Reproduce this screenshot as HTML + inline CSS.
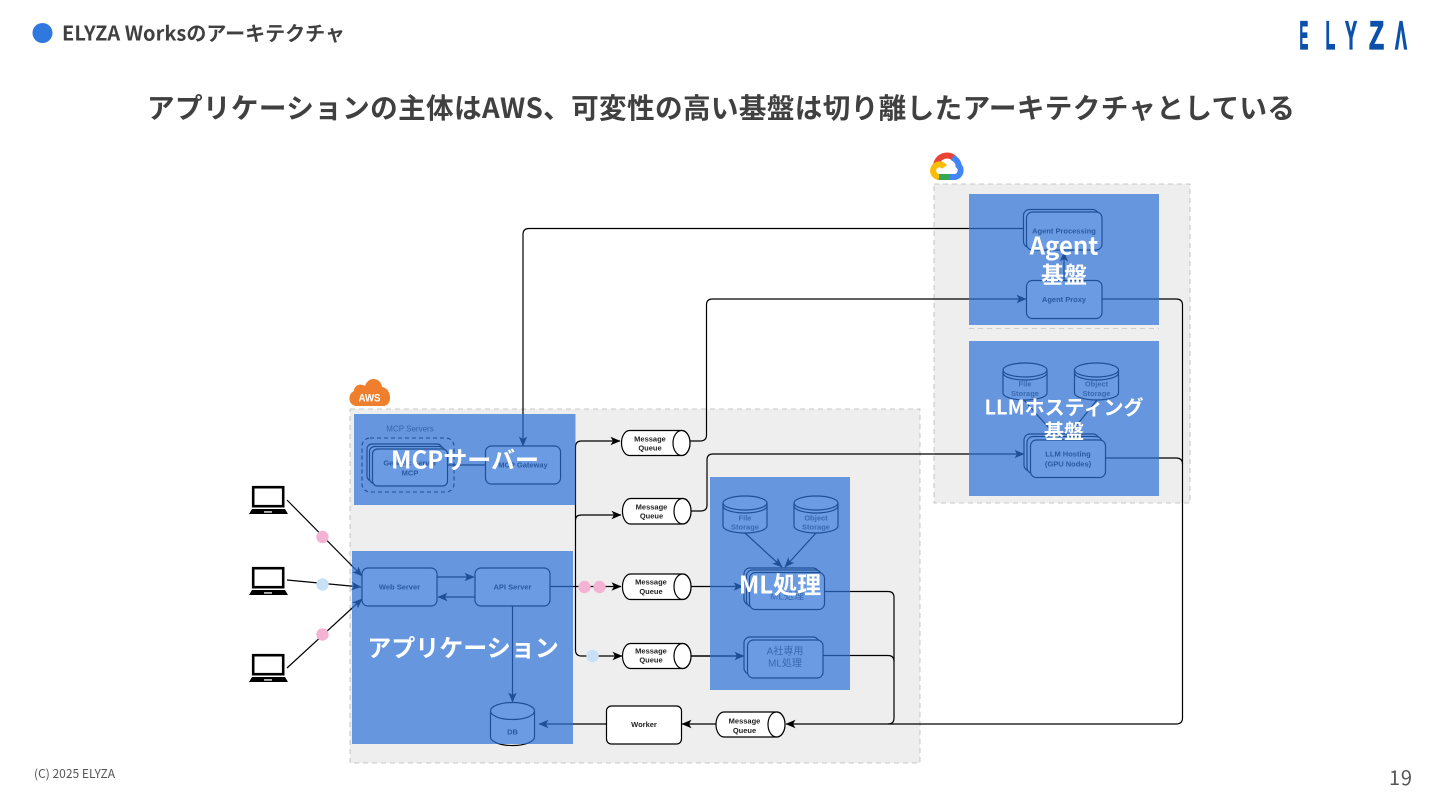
<!DOCTYPE html>
<html lang="ja">
<head>
<meta charset="utf-8">
<title>ELYZA Worksのアーキテクチャ</title>
<style>
html,body{margin:0;padding:0;background:#fff;width:1440px;height:810px;overflow:hidden}
svg{display:block}
.jp{font-family:"Liberation Sans","Noto Sans CJK JP",sans-serif}
.nt{font-family:"Noto Sans CJK JP","Liberation Sans",sans-serif}
.lb{font-family:"Liberation Sans","Noto Sans CJK JP",sans-serif;font-weight:700;font-size:7.5px;fill:#222;text-anchor:middle;dominant-baseline:central}
.nd{fill:#fff;stroke:#000;stroke-width:1.2}
.ln{fill:none;stroke:#000;stroke-width:1.2}
.ov{fill:#2c71d6;opacity:.7}
.wt{font-family:"Noto Sans CJK JP","Liberation Sans",sans-serif;font-weight:700;fill:#fff;text-anchor:middle;dominant-baseline:central}
.soft{filter:blur(.3px)}
</style>
</head>
<body>
<svg width="1440" height="810" viewBox="0 0 1440 810" xmlns="http://www.w3.org/2000/svg">
<defs>
<marker id="a" markerUnits="userSpaceOnUse" markerWidth="11" markerHeight="10" refX="9.5" refY="5" orient="auto">
<path d="M0 .8 L10 5 L0 9.2 L2.5 5z" fill="#000"/>
</marker>
<g id="lap">
<rect x="4.2" y="1.2" width="30" height="19" fill="#fff" stroke="#000" stroke-width="2.6"/>
<path d="M3 23 H36 L39 28 H0z" fill="#000"/>
<rect x="15" y="25.3" width="8" height="1.3" fill="#fff"/>
</g>
</defs>

<!-- header -->
<circle cx="42.5" cy="33" r="10" fill="#2f78e0"/>
<text x="62" y="40.5" class="nt" font-size="20" font-weight="700" fill="#404040" textLength="283">ELYZA Worksのアーキテクチャ</text>
<text x="147" y="118" class="nt" font-size="27.6" font-weight="700" fill="#404040" textLength="1148">アプリケーションの主体はAWS、可変性の高い基盤は切り離したアーキテクチャとしている</text>
<text x="34" y="778" class="nt" font-size="12" fill="#555" textLength="81">(C) 2025 ELYZA</text>
<text x="1389" y="785" class="nt" font-size="20" fill="#555" textLength="23">19</text>

<!-- logo -->
<g class="jp" font-weight="700" font-size="40" fill="#0b50aa" stroke="#0b50aa" stroke-width="1.2">
<text transform="translate(1299.5 49) scale(.33 1)">E</text>
<text transform="translate(1325.5 49) scale(.4 1)">L</text>
<text transform="translate(1345 49) scale(.45 1)">Y</text>
<text transform="translate(1369 49) scale(.62 1)">Z</text>
<text transform="translate(1395 49) scale(.45 1)">Λ</text>
</g>

<g class="soft">
<!-- cloud backgrounds -->
<rect x="350" y="409" width="570" height="354" fill="#eee"/>
<rect x="934" y="184" width="256" height="319" fill="#eee"/>
<rect x="350" y="409" width="570" height="354" fill="none" stroke="#b8b8b8" stroke-width=".8" stroke-dasharray="5 4"/>
<rect x="934" y="184" width="256" height="319" fill="none" stroke="#b8b8b8" stroke-width=".8" stroke-dasharray="5 4"/>
<line x1="969" y1="328.500" x2="1159" y2="328.500" stroke="#c4c0bc" stroke-width=".8" stroke-dasharray="5 4"/>

<!-- AWS badge -->
<path d="M357 406 C348 406 347 394 354 391 C354 385 361 383 365 386 C368 376 381 377 382 387 C392 388 393 406 383 406z" fill="#ef7f2d"/>
<text x="369.500" y="401.500" class="jp" font-size="11" font-weight="700" fill="#fff" text-anchor="middle" textLength="22" lengthAdjust="spacingAndGlyphs">AWS</text>

<!-- Google Cloud badge -->
<g fill="none" stroke-width="6">
<path d="M936 166 A11 11 0 0 1 955 159" stroke="#ea4335"/>
<path d="M952.500 157.500 C957 160 958.500 163 958.500 165.500 A6.600 6.600 0 0 1 954 177 H949" stroke="#4285f4"/>
<path d="M950 177 H937" stroke="#34a853"/>
<path d="M939 177 A6.300 6.300 0 1 1 944.500 167" stroke="#fbbc05"/>
</g>

<!-- connectors -->
<g class="ln">
<path d="M1023 228.500 H529 Q523 228.500 523 234.500 V446" marker-end="url(#a)"/>
<path d="M690 441 H700 Q706.500 441 706.500 435 V305 Q706.500 299 712.500 299 H1026" marker-end="url(#a)"/>
<path d="M691 511 H701 Q707 511 707 505 V460 Q707 454 713 454 H1024" marker-end="url(#a)"/>
<path d="M1102 299 H1176 Q1182.500 299 1182.500 305 V718 Q1182.500 724 1176 724 H786" marker-end="url(#a)"/>
<path d="M1105 458 H1176 Q1182.500 458 1182.500 464"/>
<path d="M825 591.500 H888 Q894 591.500 894 597.500 V718 Q894 724 888 724"/>
<path d="M823 655.500 H888 Q894 655.500 894 661.500"/>
<path d="M550 586.500 H621" marker-end="url(#a)"/>
<path d="M575.500 586.500 V447 Q575.500 441 581.500 441 H620" marker-end="url(#a)"/>
<path d="M575.500 520 Q575.500 515 581.500 515 H621" marker-end="url(#a)"/>
<path d="M575.500 586.500 V650 Q575.500 656 581.500 656 H622" marker-end="url(#a)"/>
<path d="M691 586.500 H743" marker-end="url(#a)"/>
<path d="M691 656 H744" stroke-width="1.6" marker-end="url(#a)"/>
<path d="M716 724 H682" marker-end="url(#a)"/>
<path d="M606 724 H539" marker-end="url(#a)"/>
<path d="M512.500 606 V702" marker-end="url(#a)"/>
<path d="M437 577 H474" marker-end="url(#a)"/>
<path d="M475 597 H438" marker-end="url(#a)"/>
<path d="M485.500 465 H448"/>
<path d="M745 533 L782 567" marker-end="url(#a)"/>
<path d="M816 533 L785 567" marker-end="url(#a)"/>
<path d="M1064 280 V252" marker-end="url(#a)"/>
<path d="M1024 400 L1056 436"/>
<path d="M1097 400 L1068 436"/>
<path d="M287 500 L362 576" marker-end="url(#a)"/>
<path d="M287 580 L361 587" marker-end="url(#a)"/>
<path d="M287 668 L362 599" marker-end="url(#a)"/>
</g>

<!-- laptops -->
<use href="#lap" x="249" y="486"/>
<use href="#lap" x="249" y="567"/>
<use href="#lap" x="249" y="654"/>

<!-- MCP -->
<rect x="362" y="438" width="92" height="54" rx="8" fill="none" stroke="#000" stroke-width="1.1" stroke-dasharray="4 3"/>
<text x="410" y="429" class="lb" style="font-weight:400;font-size:8px;fill:#444">MCP Servers</text>
<rect class="nd" x="367" y="444" width="75" height="37" rx="5"/>
<rect class="nd" x="369.500" y="446.500" width="75" height="37" rx="5"/>
<rect class="nd" x="372.500" y="449" width="75" height="37" rx="5"/>
<text x="410" y="463" class="lb">Generic Server</text>
<text x="410" y="473" class="lb">MCP</text>
<rect class="nd" x="485.500" y="446" width="75" height="38" rx="6"/>
<text x="523" y="465" class="lb">MCP Gateway</text>

<!-- App -->
<rect class="nd" x="362" y="568" width="75" height="38" rx="6"/>
<text x="399.500" y="587" class="lb">Web Server</text>
<rect class="nd" x="475" y="568" width="75" height="38" rx="6"/>
<text x="512.500" y="587" class="lb">API Server</text>
<path class="nd" d="M490.500 711 A22 8.500 0 0 1 534.500 711 V737 A22 8.500 0 0 1 490.500 737z"/>
<path class="ln" d="M490.500 711 A22 8.500 0 0 0 534.500 711"/>
<text x="512.500" y="732" class="lb">DB</text>

<!-- Queues -->
<g>
<path class="nd" d="M629.500 430.500 H682 A8 12.500 0 0 1 682 455.500 H629.500 A8 12.500 0 0 1 629.500 430.500z"/><ellipse class="nd" cx="681.500" cy="443" rx="8.500" ry="12.500"/>
<path class="nd" d="M630.500 498.500 H683 A8 12.700 0 0 1 683 524 H630.500 A8 12.700 0 0 1 630.500 498.500z"/><ellipse class="nd" cx="682.500" cy="511.200" rx="8.500" ry="12.700"/>
<path class="nd" d="M630.500 574 H683 A8 12.700 0 0 1 683 599.500 H630.500 A8 12.700 0 0 1 630.500 574z"/><ellipse class="nd" cx="682.500" cy="586.700" rx="8.500" ry="12.700"/>
<path class="nd" d="M630.500 643.500 H683 A8 12.500 0 0 1 683 668.500 H630.500 A8 12.500 0 0 1 630.500 643.500z"/><ellipse class="nd" cx="682.500" cy="656" rx="8.500" ry="12.500"/>
<path class="nd" d="M724 712 H777 A8 12.500 0 0 1 777 737 H724 A8 12.500 0 0 1 724 712z"/><ellipse class="nd" cx="776.500" cy="724.500" rx="8.500" ry="12.500"/>
</g>
<text x="650" y="439" class="lb">Message</text><text x="650" y="448" class="lb">Queue</text>
<text x="651.500" y="507" class="lb">Message</text><text x="651.500" y="516" class="lb">Queue</text>
<text x="651" y="582" class="lb">Message</text><text x="651" y="591.500" class="lb">Queue</text>
<text x="651" y="651" class="lb">Message</text><text x="651" y="660" class="lb">Queue</text>
<text x="744.500" y="721" class="lb">Message</text><text x="744.500" y="730.500" class="lb">Queue</text>
<rect class="nd" x="606.500" y="706" width="75" height="38" rx="5"/>
<text x="644" y="724.500" class="lb">Worker</text>

<!-- ML -->
<g>
<path class="nd" d="M723 503 A22 7 0 0 1 767 503 V526 A22 7 0 0 1 723 526z"/>
<path class="ln" d="M723 503 A22 7 0 0 0 767 503 M723 506 A22 7 0 0 0 767 506"/>
<text x="745" y="518" class="lb" style="fill:#555">File</text><text x="745" y="527" class="lb" style="fill:#555">Storage</text>
<path class="nd" d="M794 503 A22 7 0 0 1 838 503 V526 A22 7 0 0 1 794 526z"/>
<path class="ln" d="M794 503 A22 7 0 0 0 838 503 M794 506 A22 7 0 0 0 838 506"/>
<text x="816" y="518" class="lb" style="fill:#555">Object</text><text x="816" y="527" class="lb" style="fill:#555">Storage</text>
</g>
<rect class="nd" x="744" y="568" width="75" height="37" rx="6"/>
<rect class="nd" x="746.500" y="570" width="75" height="37" rx="6"/>
<rect class="nd" x="749.500" y="572.500" width="75" height="37" rx="6"/>
<text x="787" y="597" class="jp" font-size="10" fill="#555" text-anchor="middle" dominant-baseline="central">ML処理</text>
<rect class="nd" x="744" y="637" width="75" height="37" rx="6"/>
<rect class="nd" x="747.500" y="640" width="75.500" height="38" rx="6"/>
<text x="785" y="652" class="jp" font-size="10" fill="#555" text-anchor="middle" dominant-baseline="central">A社専用</text>
<text x="785" y="664" class="jp" font-size="10" fill="#555" text-anchor="middle" dominant-baseline="central">ML処理</text>

<!-- Agent -->
<rect class="nd" x="1023.500" y="209.500" width="75" height="38" rx="6"/>
<rect class="nd" x="1026.500" y="212" width="75.500" height="38" rx="6"/>
<text x="1064" y="231" class="lb">Agent Processing</text>
<rect class="nd" x="1026.500" y="280.500" width="75.500" height="38" rx="6"/>
<text x="1064" y="299.500" class="lb">Agent Proxy</text>

<!-- LLM -->
<path class="nd" d="M1003 370 A22 7 0 0 1 1047 370 V393 A22 7 0 0 1 1003 393z"/>
<path class="ln" d="M1003 370 A22 7 0 0 0 1047 370 M1003 373 A22 7 0 0 0 1047 373"/>
<text x="1025" y="384" class="lb" style="fill:#555">File</text><text x="1025" y="393.500" class="lb" style="fill:#555">Storage</text>
<path class="nd" d="M1074.500 370 A22 7 0 0 1 1118.500 370 V393 A22 7 0 0 1 1074.500 393z"/>
<path class="ln" d="M1074.500 370 A22 7 0 0 0 1118.500 370 M1074.500 373 A22 7 0 0 0 1118.500 373"/>
<text x="1096.500" y="384" class="lb" style="fill:#555">Object</text><text x="1096.500" y="393.500" class="lb" style="fill:#555">Storage</text>
<rect class="nd" x="1024" y="434" width="75" height="37" rx="6"/>
<rect class="nd" x="1027" y="436.500" width="75" height="37" rx="6"/>
<rect class="nd" x="1030.500" y="440" width="75" height="37.500" rx="6"/>
<text x="1068" y="454" class="lb">LLM Hosting</text>
<text x="1068" y="464" class="lb">(GPU Nodes)</text>

<!-- translucent overlays -->
<rect class="ov" x="354" y="414" width="221.500" height="91"/>
<rect class="ov" x="352" y="551" width="221" height="193"/>
<rect class="ov" x="710" y="477" width="140" height="213"/>
<rect class="ov" x="969" y="194" width="190" height="131"/>
<rect class="ov" x="969" y="341" width="190" height="155"/>

<!-- overlay labels -->
<text x="465" y="458" class="wt" font-size="24">MCPサーバー</text>
<text x="463" y="646" class="wt" font-size="24">アプリケーション</text>
<text x="780" y="583" class="wt" font-size="24">ML処理</text>
<text x="1064" y="244" class="wt" font-size="24">Agent</text>
<text x="1064" y="273" class="wt" font-size="23">基盤</text>
<text x="1064" y="406" class="wt" font-size="20">LLMホスティング</text>
<text x="1064" y="430" class="wt" font-size="20">基盤</text>

<!-- dots -->
<circle cx="322.500" cy="537" r="6.200" fill="#f4b3d3"/>
<circle cx="322.500" cy="584.500" r="6.200" fill="#c9e1f7"/>
<circle cx="322.500" cy="634.500" r="6.200" fill="#f4b3d3"/>
<circle cx="584.500" cy="587" r="6.200" fill="#f4b3d3"/>
<circle cx="599.500" cy="587" r="6.200" fill="#f4b3d3"/>
<circle cx="592.500" cy="656" r="6.200" fill="#c9e1f7"/>
</g>
</svg>
</body>
</html>
